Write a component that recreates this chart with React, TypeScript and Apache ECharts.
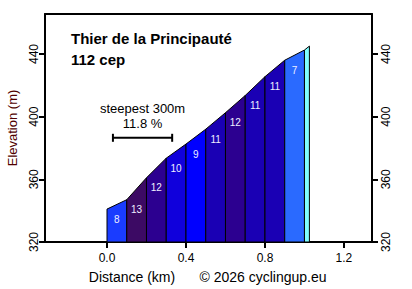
import React, { useEffect, useRef } from 'react';
import * as echarts from 'echarts';

const distances = [0, 0.1, 0.2, 0.3, 0.4, 0.5, 0.6, 0.7, 0.8, 0.9, 1.0, 1.025];
const elevations = [341, 347, 361, 373.5, 382.5, 392, 402.5, 413.5, 425.5, 436, 442.5, 445];
const gradientLabels = ['8', '13', '12', '10', '9', '11', '12', '11', '11', '7', ''];
const segmentColors = ['#1a3cff', '#3c0a64', '#2c0090', '#1000dc', '#0000ff', '#1a00b4', '#2c0090', '#1a00b4', '#1a00b4', '#2a6aff', '#80ffff'];
const xTicks = [0, 0.4, 0.8, 1.2];
const yTicks = [320, 360, 400, 440];
const steepestRange = [0.03, 0.33];
const steepestLevel = 386.5;
const steepestLines = ['steepest 300m', '11.8 %'];
const titleLines = ['Thier de la Principauté', '112 cep'];

const FONT = '"Liberation Sans", Arial, sans-serif';

export default function App() {
  const ref = useRef<HTMLDivElement>(null);
  useEffect(() => {
    if (!ref.current) return;
    const chart = echarts.init(ref.current, null, { renderer: 'svg' });
    const segData = gradientLabels.map((g, i) => [distances[i], distances[i + 1], elevations[i], elevations[i + 1], i]);
    const yMin = 320;
    const axisCommon = {
      axisLine: { show: true, onZero: false, lineStyle: { color: '#000', width: 2 } },
      splitLine: { show: false },
    };
    chart.setOption({
      animation: false,
      grid: { left: 45, right: 40, top: 14, bottom: 47 },
      xAxis: [
        {
          type: 'value', min: -0.314, max: 1.342, position: 'bottom',
          ...axisCommon,
          axisTick: { show: true, length: 6, lineStyle: { color: '#000', width: 2 }, customValues: xTicks },
          axisLabel: { customValues: xTicks, formatter: (v: number) => v.toFixed(1), color: '#000', fontSize: 12, fontFamily: FONT, margin: 10 },
        },
        {
          type: 'value', min: -0.314, max: 1.342, position: 'top',
          ...axisCommon,
          axisTick: { show: false }, axisLabel: { show: false },
        },
      ],
      yAxis: [
        {
          type: 'value', min: yMin, max: 465.5, position: 'left',
          ...axisCommon,
          axisTick: { show: true, length: 6, lineStyle: { color: '#000', width: 2 }, customValues: yTicks },
          axisLabel: { customValues: yTicks, rotate: 90, color: '#000', fontSize: 12, fontFamily: FONT, margin: 5 },
        },
        {
          type: 'value', min: yMin, max: 465.5, position: 'right',
          ...axisCommon,
          axisTick: { show: true, length: 6, lineStyle: { color: '#000', width: 2 }, customValues: yTicks },
          axisLabel: { customValues: yTicks, rotate: 90, color: '#000', fontSize: 12, fontFamily: FONT, margin: 8 },
        },
      ],
      series: [
        {
          type: 'custom',
          xAxisIndex: 0, yAxisIndex: 0,
          encode: { x: [0, 1], y: [2, 3] },
          data: segData,
          clip: false,
          renderItem: (params: any, api: any) => {
            const x0 = api.value(0), x1 = api.value(1), e0 = api.value(2), e1 = api.value(3), i = api.value(4);
            const pts = [api.coord([x0, yMin]), api.coord([x0, e0]), api.coord([x1, e1]), api.coord([x1, yMin])];
            const top = api.coord([x0, e0]);
            const mid = api.coord([(x0 + x1) / 2, e0]);
            return {
              type: 'group',
              children: [
                { type: 'polygon', shape: { points: pts }, style: { fill: segmentColors[i], stroke: '#000', lineWidth: 1 } },
                {
                  type: 'text', x: mid[0], y: top[1] + 10,
                  style: { text: gradientLabels[i], fill: '#eeeeff', fontSize: 10, fontFamily: FONT, align: 'center', verticalAlign: 'middle' },
                },
              ],
            };
          },
        },
        {
          type: 'custom',
          xAxisIndex: 0, yAxisIndex: 0,
          encode: { x: [0, 1], y: 2 },
          data: [[steepestRange[0], steepestRange[1], steepestLevel]],
          clip: false,
          renderItem: (params: any, api: any) => {
            const a = api.coord([api.value(0), api.value(2)]);
            const b = api.coord([api.value(1), api.value(2)]);
            const cx = (a[0] + b[0]) / 2;
            const ls = { stroke: '#000', lineWidth: 2 };
            return {
              type: 'group',
              children: [
                { type: 'line', shape: { x1: a[0], y1: a[1], x2: b[0], y2: b[1] }, style: ls },
                { type: 'line', shape: { x1: a[0], y1: a[1] - 4, x2: a[0], y2: a[1] + 4 }, style: ls },
                { type: 'line', shape: { x1: b[0], y1: b[1] - 4, x2: b[0], y2: b[1] + 4 }, style: ls },
                { type: 'text', x: cx, y: a[1] - 29, style: { text: steepestLines[0], fill: '#000', fontSize: 13, fontFamily: FONT, align: 'center', verticalAlign: 'middle' } },
                { type: 'text', x: cx, y: a[1] - 14, style: { text: steepestLines[1], fill: '#000', fontSize: 13, fontFamily: FONT, align: 'center', verticalAlign: 'middle' } },
              ],
            };
          },
        },
      ],
      graphic: [
        { type: 'text', left: 71, top: 31, style: { text: titleLines[0], fill: '#000', font: `bold 15px ${FONT}` } },
        { type: 'text', left: 71, top: 52, style: { text: titleLines[1], fill: '#000', font: `bold 15px ${FONT}` } },
        { type: 'text', x: 12, y: 128, rotation: Math.PI / 2, style: { text: 'Elevation (m)', fill: '#500000', fontSize: 13, fontFamily: FONT, align: 'center', verticalAlign: 'middle' } },
        { type: 'text', x: 132, y: 277, style: { text: 'Distance (km)', fill: '#000', fontSize: 14, fontFamily: FONT, align: 'center', verticalAlign: 'middle' } },
        { type: 'text', x: 263, y: 277, style: { text: '© 2026 cyclingup.eu', fill: '#000', fontSize: 14, fontFamily: FONT, align: 'center', verticalAlign: 'middle' } },
      ],
    });
    return () => chart.dispose();
  }, []);
  return <div ref={ref} style={{ position: 'fixed', left: 0, top: 0, width: 412, height: 289, background: '#fff' }} />;
}
